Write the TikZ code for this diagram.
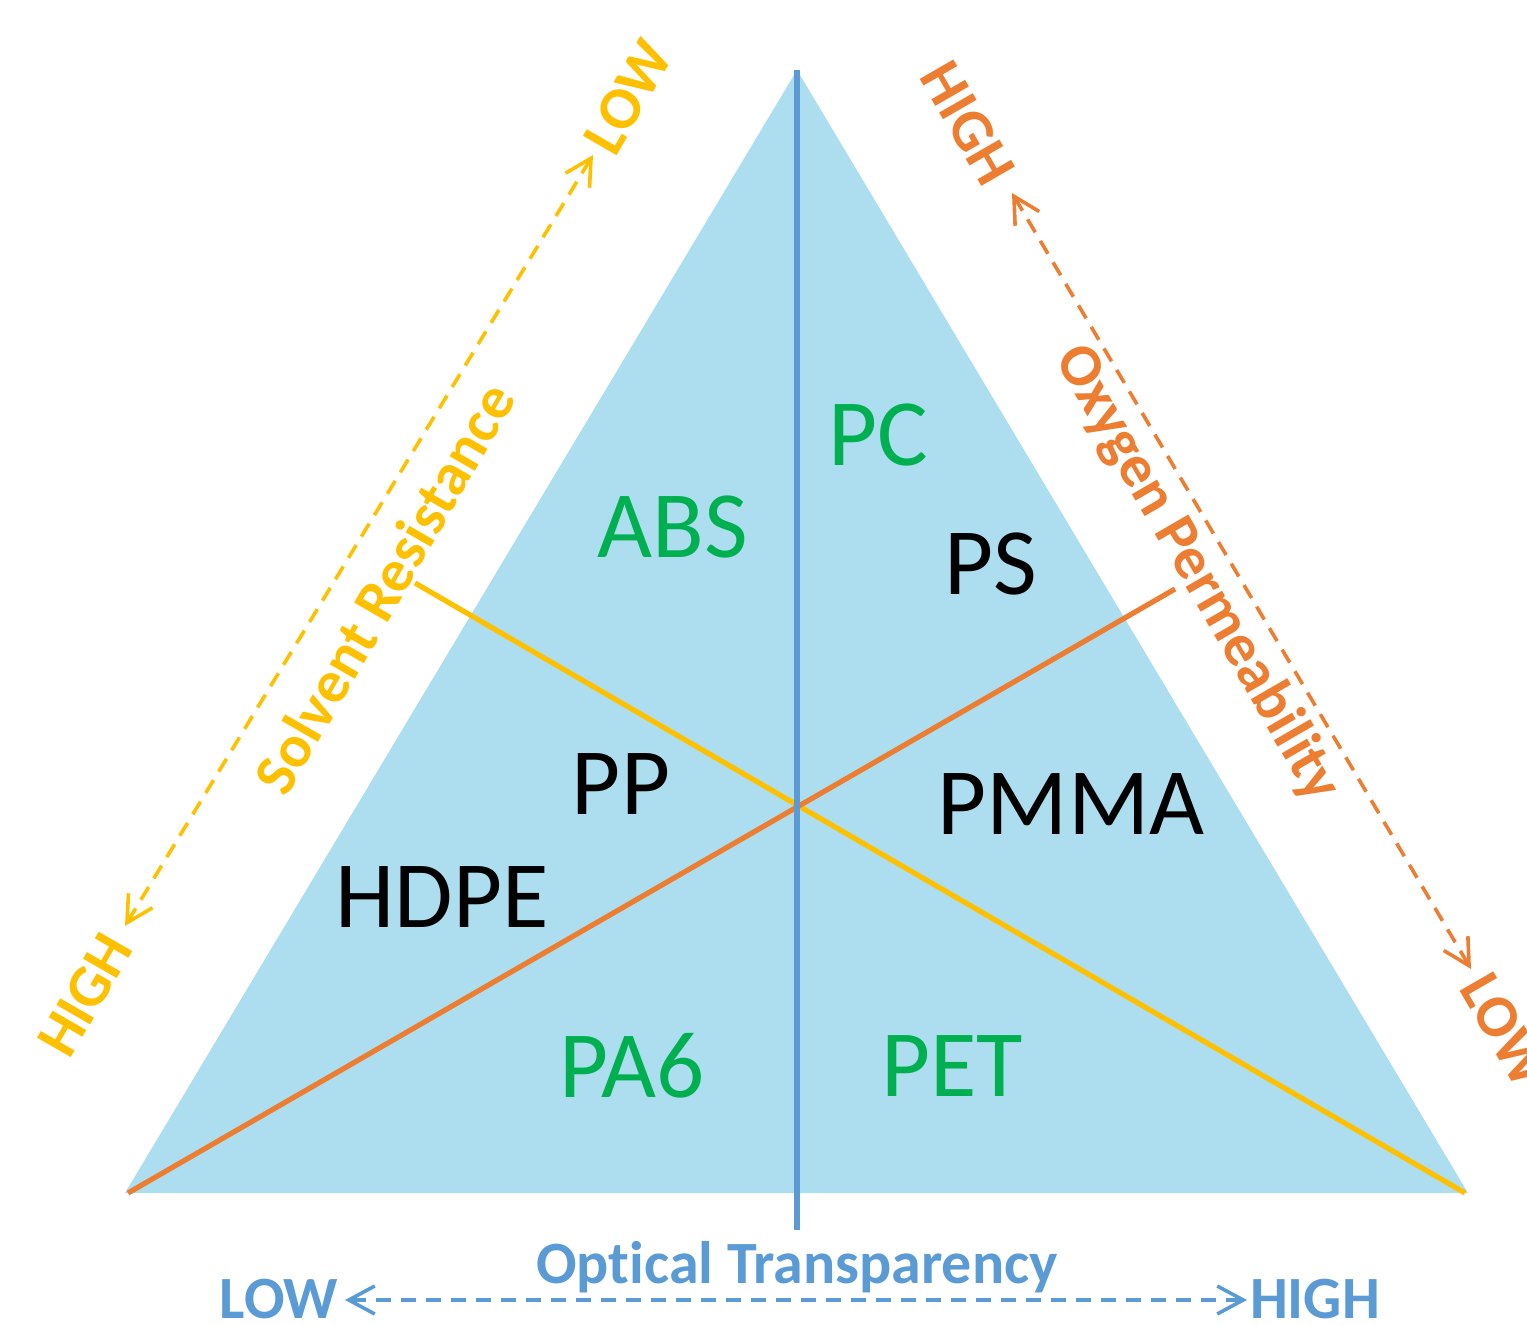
\documentclass[tikz,border=0pt]{standalone}
\usepackage{fontspec}
\setmainfont{Carlito}[Ligatures=NoCommon]
\usetikzlibrary{arrows.meta}
\definecolor{trifill}{RGB}{172,222,240}
\definecolor{axblue}{RGB}{91,155,213}
\definecolor{axyellow}{RGB}{255,192,0}
\definecolor{axorange}{RGB}{237,125,49}
\definecolor{matgreen}{RGB}{0,176,80}
\begin{document}
\begin{tikzpicture}[x=0.5pt,y=0.5pt,
  divline/.style={line width=2.6pt},
  dasharrow/.style={line width=1.8pt, dash pattern=on 7.5pt off 5pt,
    {Straight Barb[length=13pt,width=14pt,line width=1.8pt]}-{Straight Barb[length=13pt,width=14pt,line width=1.8pt]}},
  matlabel/.style={inner sep=0pt, font=\fontsize{47.5}{50}\selectfont},
  axlabel/.style={inner sep=0pt, font=\fontsize{30}{32}\selectfont\bfseries}]
\useasboundingbox (0,0) rectangle (1527,1324);
% triangle
\coordinate (apex) at (797,1254);
\coordinate (bl) at (125,131);
\coordinate (br) at (1468,131);
\coordinate (vbot) at (797,94);
\coordinate (yst) at (415,741);
\coordinate (yen) at (1465,131);
\coordinate (ost) at (128,131);
\coordinate (oen) at (1175,735);
\fill[trifill] (apex) -- (bl) -- (br) -- cycle;
\draw[divline, axyellow] (yst) -- (yen);
\draw[divline, axorange] (ost) -- (oen);
\draw[divline, axblue] (apex) -- (vbot);
% materials
\node[matlabel, text=matgreen] (abs) at (673,797) {ABS};
\node[matlabel, text=matgreen] (pc) at (878,889) {PC};
\node[matlabel] (ps) at (991,760) {PS};
\node[matlabel] (pp) at (621,540) {PP};
\node[matlabel] (hdpe) at (442,427) {HDPE};
\node[matlabel] (pmma) at (1071,520) {PMMA};
\node[matlabel, text=matgreen] (pa6) at (632,258) {PA6};
\node[matlabel, text=matgreen] (pet) at (952,258) {PET};
% yellow axis
\coordinate (ytip1) at (593,1169);
\coordinate (ytip2) at (125,398);
\draw[dasharrow, axyellow] (ytip2) -- (ytip1);
\node[axlabel, text=axyellow, rotate=60] (ylow) at (628,1227) {LOW};
\node[axlabel, text=axyellow, rotate=60] (yhigh) at (85,329) {HIGH};
\node[axlabel, text=axyellow, rotate=60] (ytitle) at (384,736) {Solvent Resistance};
% orange axis
\coordinate (otip1) at (1012,1131);
\coordinate (otip2) at (1471,355);
\draw[dasharrow, axorange] (otip1) -- (otip2);
\node[axlabel, text=axorange, rotate=-60] (ohigh) at (968,1201) {HIGH};
\node[axlabel, text=axorange, rotate=-60] (olow) at (1505,294) {LOW};
\node[axlabel, text=axorange, rotate=-60] (otitle) at (1197,750) {Oxygen Permeability};
% blue axis
\coordinate (btip1) at (345,24);
\coordinate (btip2) at (1247,24);
\draw[dasharrow, axblue] (btip1) -- (btip2);
\node[axlabel, text=axblue, anchor=base] (btitle) at (797,41) {Optical Transparency};
\node[axlabel, text=axblue, anchor=base] (blow) at (279,6) {LOW};
\node[axlabel, text=axblue, anchor=base] (bhigh) at (1315,6) {HIGH};
\end{tikzpicture}
\end{document}
